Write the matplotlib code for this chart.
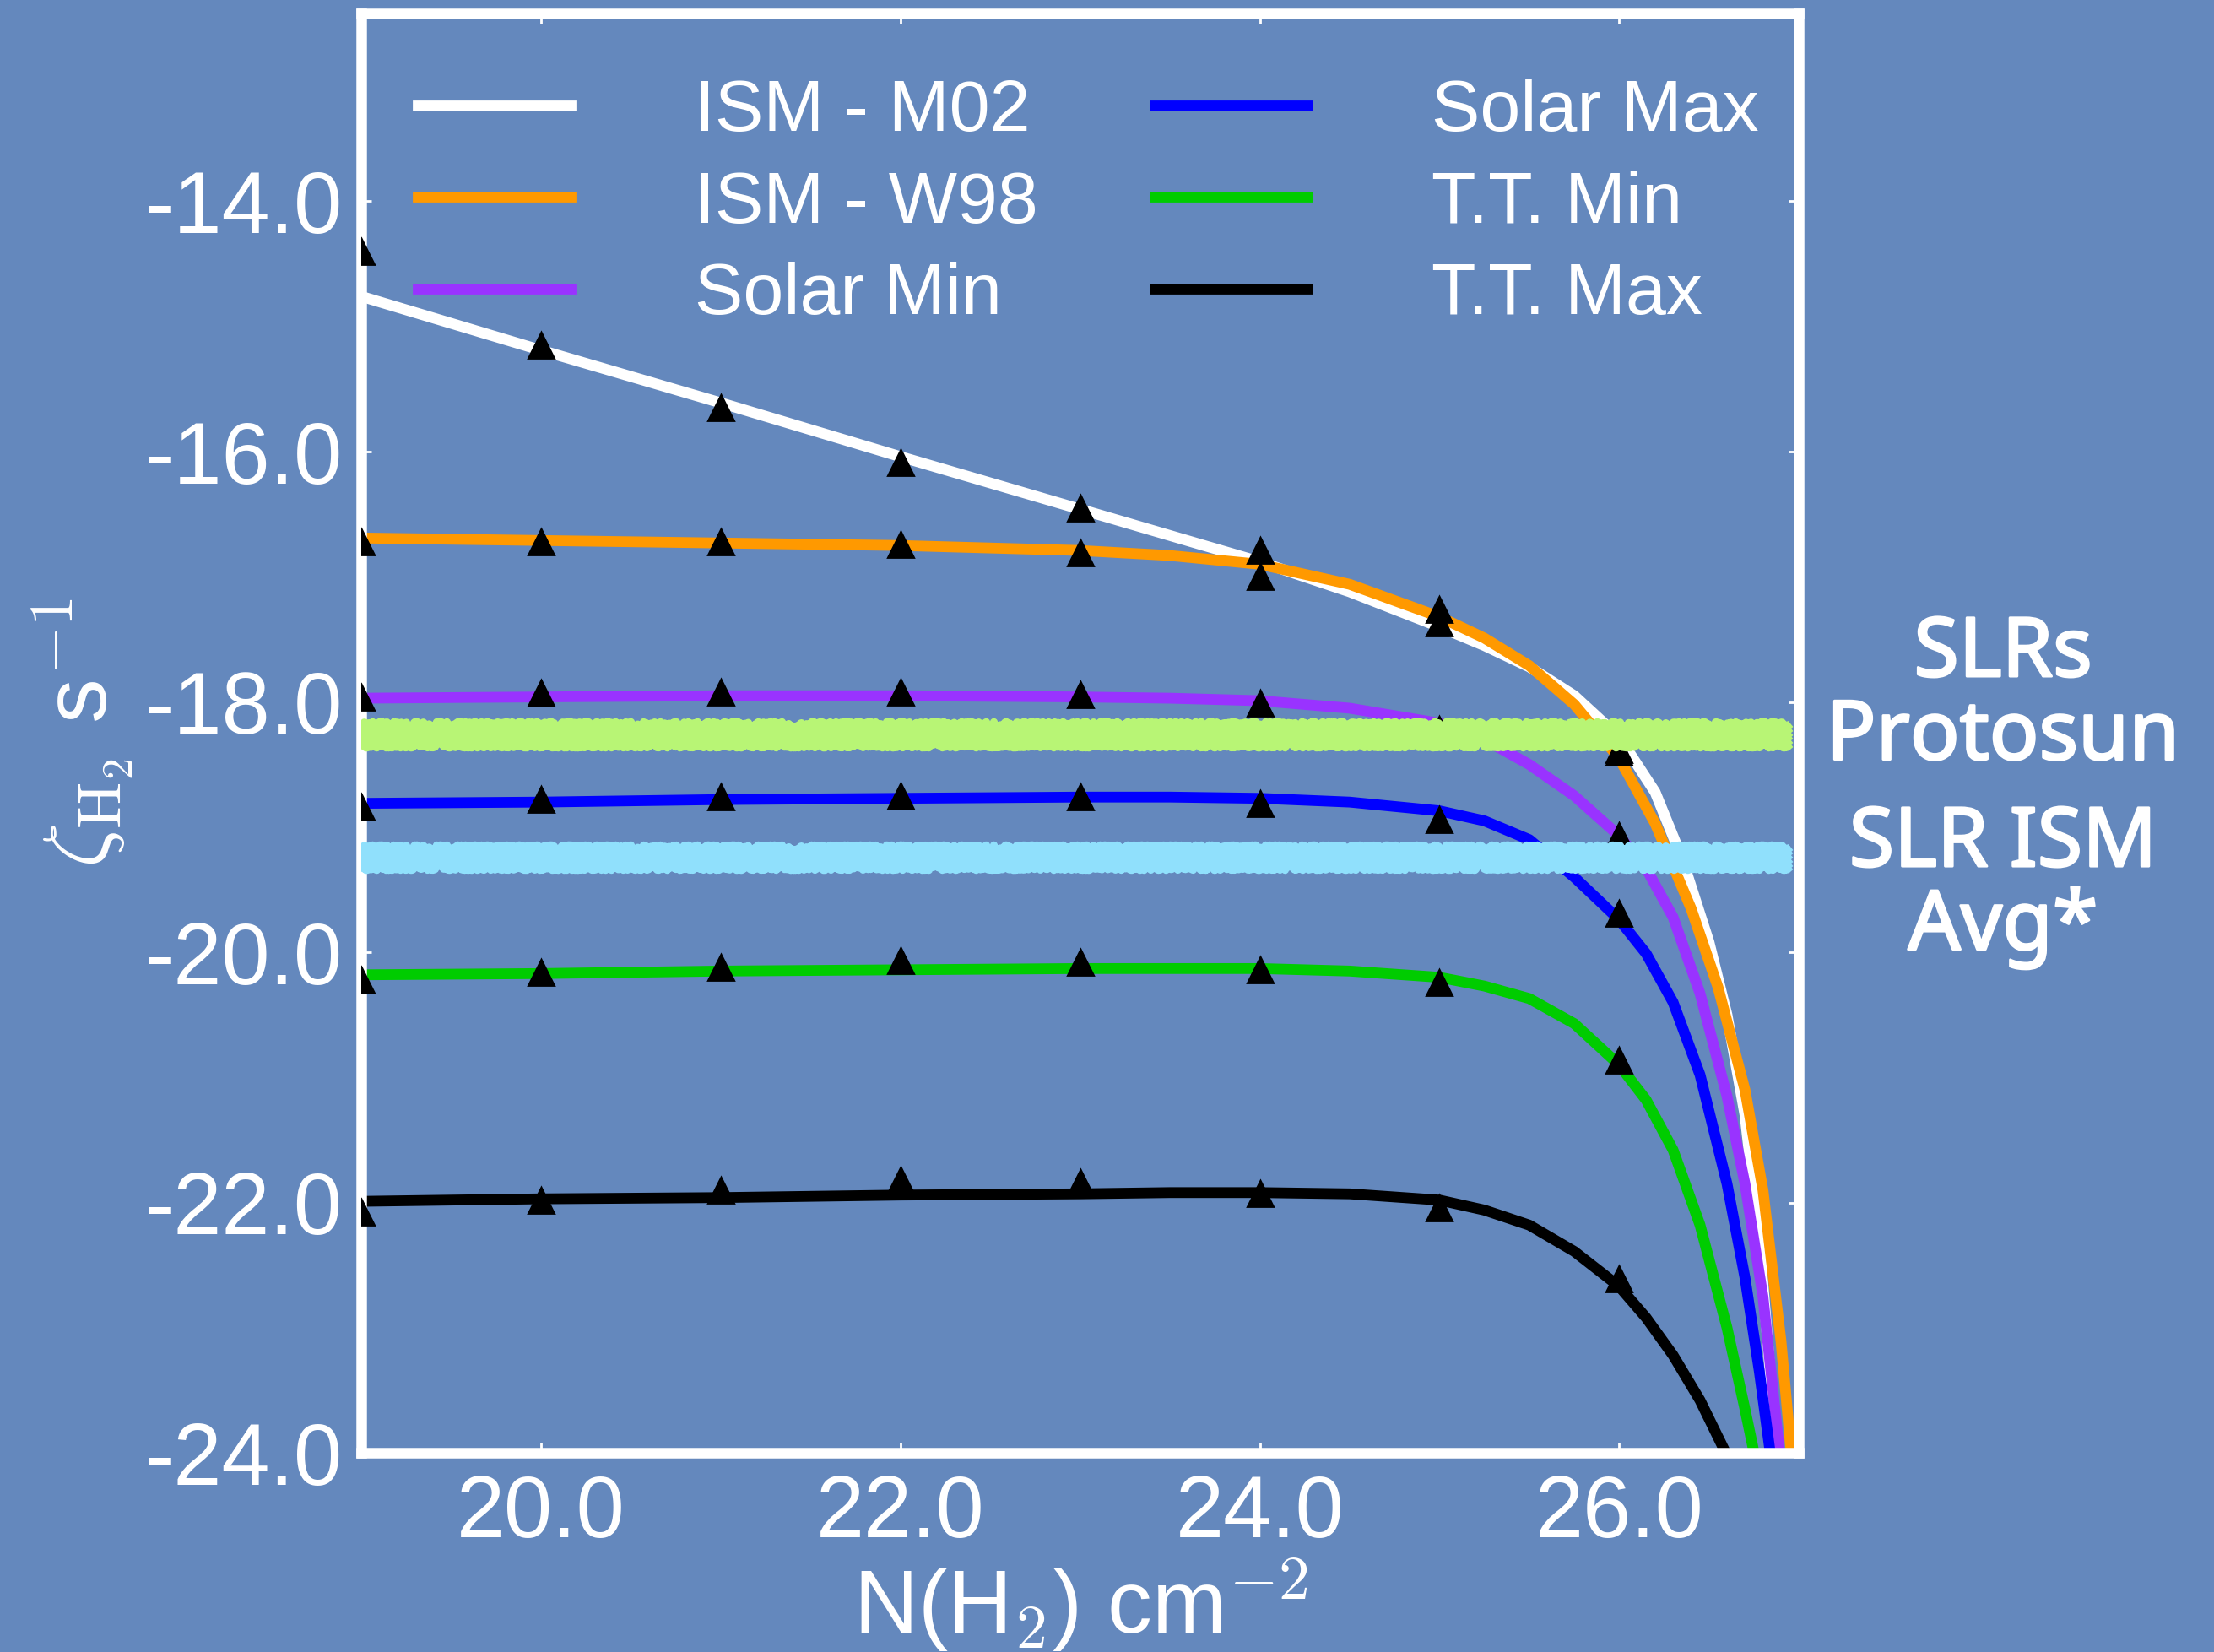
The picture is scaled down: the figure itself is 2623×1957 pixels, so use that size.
import numpy as np
import matplotlib
matplotlib.use("Agg")
import matplotlib.pyplot as plt
import matplotlib.patheffects as pe

plt.rcParams['font.family'] = ['Liberation Sans', 'DejaVu Sans']
plt.rcParams['mathtext.fontset'] = 'cm'

bg = '#6488bd'

# triangles: model points at integer column densities
n_pts = [19, 20, 21, 22, 23, 24, 25, 26]
m02_pts = [-14.40, -15.15, -15.65, -16.09, -16.45, -16.79, -17.37, -18.38]
w98_pts = [-16.72, -16.72, -16.72, -16.74, -16.81, -17.00, -17.26, -18.40]
smin_pts = [-17.96, -17.93, -17.92, -17.92, -17.94, -18.01, -18.22, -19.07]
smax_pts = [-18.84, -18.78, -18.76, -18.75, -18.76, -18.81, -18.94, -19.69]
ttmin_pts = [-20.22, -20.16, -20.12, -20.07, -20.08, -20.14, -20.24, -20.86]
ttmax_pts = [-22.08, -21.98, -21.90, -21.82, -21.84, -21.93, -22.04, -22.61]

# fitted curves
m02_x = [19, 20, 21, 22, 23, 24, 24.5, 25, 25.25, 25.5, 25.75, 26, 26.2, 26.35, 26.5,
         26.6, 26.7, 26.78, 26.86, 26.88]
m02_y = [-14.76, -15.19, -15.61, -16.04, -16.46, -16.88, -17.12, -17.40, -17.55, -17.72,
         -17.95, -18.28, -18.72, -19.25, -19.92, -20.50, -21.3, -22.3, -23.7, -24.2]
w98_x = [19, 20, 21, 22, 23, 23.5, 24, 24.5, 25, 25.25, 25.5, 25.75, 26, 26.2, 26.4,
         26.55, 26.7, 26.8, 26.9, 26.97]
w98_y = [-16.69, -16.71, -16.73, -16.75, -16.79, -16.83, -16.90, -17.06, -17.32, -17.49,
         -17.71, -18.02, -18.45, -18.97, -19.65, -20.28, -21.1, -21.9, -23.1, -24.2]
smin_x = [19, 20, 21, 22, 23, 23.5, 24, 24.5, 25, 25.25, 25.5, 25.75, 26, 26.15, 26.3,
          26.45, 26.6, 26.7, 26.8, 26.9]
smin_y = [-17.97, -17.96, -17.95, -17.95, -17.96, -17.97, -17.99, -18.05, -18.17, -18.30,
          -18.50, -18.75, -19.07, -19.33, -19.72, -20.33, -21.15, -21.85, -22.75, -24.1]
smax_x = [19, 20, 21, 22, 23, 23.5, 24, 24.5, 25, 25.25, 25.5, 25.75, 26, 26.15, 26.3,
          26.45, 26.6, 26.7, 26.78, 26.85]
smax_y = [-18.81, -18.80, -18.78, -18.77, -18.76, -18.76, -18.77, -18.80, -18.87, -18.95,
          -19.10, -19.40, -19.74, -20.01, -20.40, -20.98, -21.85, -22.6, -23.35, -24.1]
ttmin_x = [19, 20, 21, 22, 23, 23.5, 24, 24.5, 25, 25.25, 25.5, 25.75, 26, 26.15, 26.3,
           26.45, 26.6, 26.7, 26.78]
ttmin_y = [-20.18, -20.17, -20.15, -20.14, -20.13, -20.13, -20.13, -20.15, -20.20, -20.27,
           -20.37, -20.57, -20.90, -21.18, -21.58, -22.18, -23.0, -23.65, -24.2]
ttmax_x = [19, 20, 21, 22, 23, 23.5, 24, 24.5, 25, 25.25, 25.5, 25.75, 26, 26.15, 26.3,
           26.45, 26.6]
ttmax_y = [-21.99, -21.97, -21.96, -21.94, -21.93, -21.92, -21.92, -21.93, -21.98, -22.06,
           -22.18, -22.39, -22.67, -22.92, -23.22, -23.58, -24.02]

labels = ['ISM - M02', 'ISM - W98', 'Solar Min', 'Solar Max', 'T.T. Min', 'T.T. Max']
colors = ['white', '#ff9900', '#9933ff', '#0000ff', '#00cc00', 'black']

# SLR ionization levels (horizontal bands)
slr_protosun = -18.26
slr_ism_avg = -19.24

fig = plt.figure(figsize=(13.115, 9.785), dpi=200, facecolor=bg)
ax = fig.add_axes([0.1632, 0.1205, 0.6493, 0.8713])
ax.set_facecolor(bg)

curves = [(m02_x, m02_y), (w98_x, w98_y), (smin_x, smin_y),
          (smax_x, smax_y), (ttmin_x, ttmin_y), (ttmax_x, ttmax_y)]
for (cx, cy), lab, col in zip(curves, labels, colors):
    ax.plot(cx, cy, color=col, lw=4.6, label=lab, zorder=2, solid_joinstyle='round')

for pts in [m02_pts, w98_pts, smin_pts, smax_pts, ttmin_pts, ttmax_pts]:
    ax.plot(n_pts, pts, '^', color='black', ms=10.6, zorder=3)

# ragged bands
for yb, col in [(slr_protosun, '#b8f575'), (slr_ism_avg, '#90e0fc')]:
    for off in [-0.08, -0.048, -0.016, 0.016, 0.048, 0.08]:
        ln, = ax.plot([19.0, 26.95], [yb + off, yb + off], color=col, lw=3.3,
                      solid_capstyle='butt', zorder=4)
        ln.set_sketch_params(scale=3.2, length=5, randomness=8)
    ax.plot([19.0, 26.95], [yb - 0.01, yb - 0.01], color=col, lw=6,
            solid_capstyle='butt', zorder=4)

ax.set_xlim(19, 27)
ax.set_ylim(-24, -12.5)
ax.set_xticks([20, 22, 24, 26])
ax.set_yticks([-24, -22, -20, -18, -16, -14])
ax.xaxis.set_major_formatter(matplotlib.ticker.FormatStrFormatter('%.1f'))
ax.yaxis.set_major_formatter(matplotlib.ticker.FormatStrFormatter('%.1f'))
ax.tick_params(direction='in', length=4.2, width=1, colors='white', labelsize=37,
               top=True, right=True, pad=8)
ax.tick_params(axis='x', pad=9)
for s in ax.spines.values():
    s.set_color('white')
    s.set_linewidth(4.5)

ax.set_xlabel(r'N(H$_2$) cm$^{-2}$', fontsize=38, color='white', labelpad=0)
ax.set_ylabel(r'$\zeta_{\rm H_2}$ s$^{-1}$', fontsize=38, color='white', labelpad=4)

leg = ax.legend(loc='upper left', bbox_to_anchor=(0.019, 0.975), ncol=2, frameon=False,
                fontsize=31, handlelength=2.1, handletextpad=1.71, columnspacing=1.61,
                labelspacing=0.33, borderaxespad=0)
for t in leg.get_texts():
    t.set_color('white')

thick = [pe.withStroke(linewidth=1.0, foreground='white')]
fig.text(0.9047, 0.5785, 'SLRs\nProtosun', ha='center', va='center', fontsize=35,
         color='white', family='Noto Sans', weight='medium', linespacing=1.02,
         path_effects=thick)
fig.text(0.9047, 0.4635, 'SLR ISM\nAvg*', ha='center', va='center', fontsize=35,
         color='white', family='Noto Sans', weight='medium', linespacing=1.02,
         path_effects=thick)

fig.savefig('out.png', dpi=200, facecolor=bg)
